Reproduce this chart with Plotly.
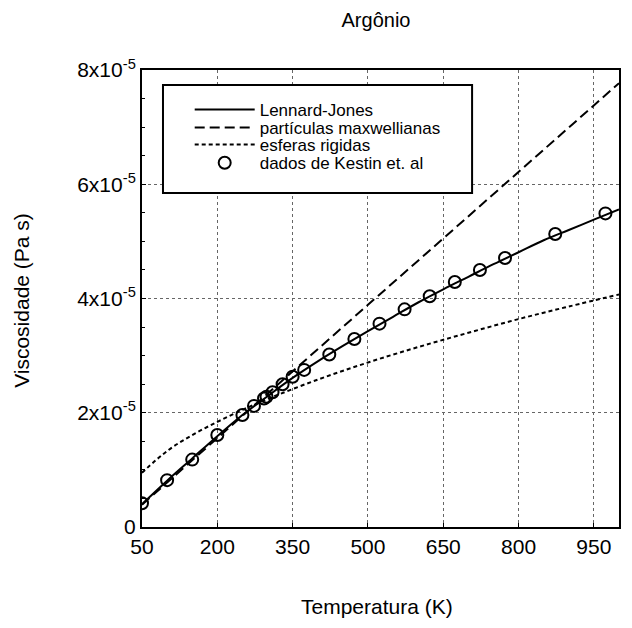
import numpy as np
import plotly.graph_objects as go

# ---- data (viscosity in units of 1e-5 Pa s) ----
kestin_T = [50, 100, 150, 200, 250, 273, 293, 298, 310, 330, 350, 373,
            423, 473, 523, 573, 623, 673, 723, 773, 873, 973]
kestin_v = [0.415, 0.82, 1.18, 1.61, 1.96, 2.12, 2.25, 2.28, 2.36, 2.50, 2.63, 2.75,
            3.02, 3.29, 3.56, 3.81, 4.04, 4.29, 4.50, 4.71, 5.13, 5.49]

lj_T = [50, 100, 150, 200, 250, 300, 350, 400, 450, 500, 550, 600, 650,
        700, 750, 800, 850, 900, 950, 1000]
lj_v = [0.40, 0.81, 1.20, 1.59, 1.96, 2.29, 2.61, 2.90, 3.17, 3.43, 3.68, 3.93,
        4.16, 4.38, 4.60, 4.81, 5.02, 5.20, 5.38, 5.56]

mx_T = [50, 200, 350, 500, 650, 800, 1000]
mx_v = [0.39, 1.56, 2.72, 3.89, 5.05, 6.22, 7.77]

hs_T = [50, 100, 150, 200, 250, 300, 400, 500, 600, 700, 800, 900, 1000]
hs_v = [0.95, 1.33, 1.61, 1.84, 2.05, 2.24, 2.58, 2.88, 3.15, 3.40, 3.64, 3.86, 4.07]

x_ticks = [50, 200, 350, 500, 650, 800, 950]
y_ticks = [0, 2e-5, 4e-5, 6e-5, 8e-5]
y_ticktext = ["0", "2x10<sup>-5</sup>", "4x10<sup>-5</sup>", "6x10<sup>-5</sup>", "8x10<sup>-5</sup>"]

SCALE = 1e-5
FONT = "Liberation Sans, Arial, sans-serif"

fig = go.Figure()
fig.add_trace(go.Scatter(x=mx_T, y=np.array(mx_v) * SCALE, mode="lines",
                         name="partículas maxwellianas", legend="legend2",
                         line=dict(color="black", width=2, dash="10px,5px")))
fig.add_trace(go.Scatter(x=hs_T, y=np.array(hs_v) * SCALE, mode="lines",
                         name="esferas rigidas", line_shape="spline", legend="legend3",
                         line=dict(color="black", width=2, dash="4px,3px")))
fig.add_trace(go.Scatter(x=lj_T, y=np.array(lj_v) * SCALE, mode="lines",
                         name="Lennard-Jones", line_shape="spline", legend="legend",
                         line=dict(color="black", width=2)))
fig.add_trace(go.Scatter(x=kestin_T, y=np.array(kestin_v) * SCALE, mode="markers",
                         name="dados de Kestin et. al", legend="legend4",
                         marker=dict(symbol="circle-open", size=12, color="black",
                                     line=dict(width=2, color="black"))))

def leg(y):
    return dict(x=0.10, y=y, xanchor="left", yanchor="middle", itemwidth=60,
                bgcolor="rgba(0,0,0,0)", borderwidth=0, font=dict(size=17))

W, H = 624, 620  # page adds an 8px body margin
fig.update_layout(
    width=W, height=H,
    margin=dict(l=134, r=13, t=62, b=101, autoexpand=False),
    paper_bgcolor="white", plot_bgcolor="white",
    font=dict(family=FONT, color="black", size=20),
    title=dict(text="Argônio", x=368 / W, xanchor="center", y=1 - 12 / H, yanchor="middle",
               font=dict(size=20)),
    showlegend=True,
    legend=leg(0.9125),
    legend2=leg(0.873),
    legend3=leg(0.836),
    legend4=leg(0.796),
    shapes=[dict(type="rect", xref="paper", yref="paper",
                 x0=0.044, x1=0.692, y0=0.731, y1=0.967,
                 line=dict(color="black", width=2), fillcolor="white", layer="above")],
    annotations=[
        dict(text="Temperatura (K)", xref="paper", yref="paper", x=0.493, y=-0.175,
             xanchor="center", yanchor="middle", showarrow=False, font=dict(size=21)),
        dict(text="Viscosidade (Pa s)", xref="paper", yref="paper", x=-0.2516, y=0.497,
             xanchor="center", yanchor="middle", showarrow=False, textangle=-90,
             font=dict(size=21)),
    ],
)

fig.update_xaxes(range=[50, 1000], tickvals=x_ticks, showline=True, linecolor="black",
                 linewidth=2, mirror=True, ticks="inside", ticklen=4, tickcolor="black",
                 showgrid=True, gridcolor="#666", griddash="dot", gridwidth=1,
                 zeroline=False, tickfont=dict(size=21), automargin=False)
fig.update_yaxes(range=[0, 8e-5], tickvals=y_ticks, ticktext=y_ticktext,
                 showline=True, linecolor="black", linewidth=2, mirror=True,
                 ticks="inside", ticklen=4, tickcolor="black",
                 minor=dict(dtick=0.5e-5, ticks="inside", ticklen=3, tickcolor="black", showgrid=False),
                 showgrid=True, gridcolor="#666", griddash="dot", gridwidth=1,
                 zeroline=False, tickfont=dict(size=21), automargin=False)

fig.write_html("out.html")
